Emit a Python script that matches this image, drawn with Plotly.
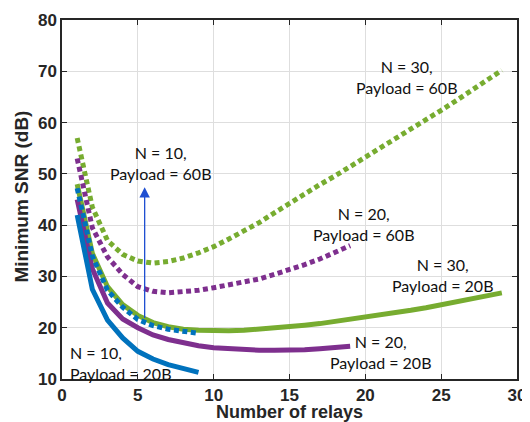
import plotly.graph_objects as go

# ---- data ----
x_n10 = list(range(1, 10))
x_n20 = list(range(1, 20))
x_n30 = list(range(1, 30))

snr_n10_20B = [42.0, 27.5, 21.5, 18.0, 15.4, 13.9, 12.8, 12.0, 11.3]
snr_n10_60B = [47.2, 34.0, 27.3, 24.0, 21.6, 20.4, 19.7, 19.2, 18.9]

snr_n20_20B = [45.0, 31.5, 24.8, 21.7, 20.0, 18.6, 17.7, 17.0, 16.5, 16.1,
               15.9, 15.7, 15.6, 15.6, 15.6, 15.7, 15.9, 16.1, 16.4]
snr_n20_60B = [53.0, 39.5, 33.8, 30.4, 28.0, 27.1, 26.8, 27.0, 27.3, 27.8,
               28.3, 28.8, 29.5, 30.4, 31.3, 32.3, 33.4, 34.6, 36.0]

snr_n30_20B = [48.0, 34.5, 28.0, 24.5, 22.4, 21.0, 20.2, 19.7, 19.5, 19.4,
               19.4, 19.5, 19.7, 19.9, 20.2, 20.5, 20.8, 21.2, 21.6, 22.0,
               22.4, 22.9, 23.4, 23.9, 24.5, 25.0, 25.6, 26.2, 26.8]
snr_n30_60B = [57.0, 43.5, 37.0, 34.3, 33.0, 32.6, 32.9, 33.6, 34.6, 35.8,
               37.3, 38.8, 40.5, 42.4, 44.3, 46.1, 47.9, 49.6, 51.4, 53.2,
               55.0, 56.8, 58.7, 60.5, 62.4, 64.3, 66.2, 68.2, 70.2]

x_ticks = [0, 5, 10, 15, 20, 25, 30]
y_ticks = [10, 20, 30, 40, 50, 60, 70, 80]

x_title = "Number of relays"
y_title = "Minimum SNR (dB)"

labels = [
    ("N = 10,<br>Payload = 60B", 6.5, 52.2, "center"),
    ("N = 30,<br>Payload = 60B", 22.75, 68.9, "center"),
    ("N = 20,<br>Payload = 60B", 19.9, 40.3, "center"),
    ("N = 30,<br>Payload = 20B", 25.1, 30.3, "center"),
    ("N = 20,<br>Payload = 20B", 21.0, 15.3, "center"),
    ("N = 10,<br>Payload = 20B", 0.4, 13.2, "left"),
]
arrow_x = 5.45
arrow_from = 21.6
arrow_to = 47.4

# ---- styles ----
BLUE = "#0072BD"
PURPLE = "#7E2F8E"
GREEN = "#77AC30"
DOT = "5px,3.5px"
LW = 5
AX = "#262626"

fig = go.Figure()
series = [
    (x_n30, snr_n30_60B, GREEN, DOT),
    (x_n20, snr_n20_60B, PURPLE, DOT),
    (x_n30, snr_n30_20B, GREEN, "solid"),
    (x_n20, snr_n20_20B, PURPLE, "solid"),
    (x_n10, snr_n10_60B, BLUE, DOT),
    (x_n10, snr_n10_20B, BLUE, "solid"),
]
for xs, ys, c, d in series:
    fig.add_trace(go.Scatter(x=xs, y=ys, mode="lines",
                             line=dict(color=c, width=LW, dash=d),
                             showlegend=False, hoverinfo="skip"))

for txt, x, y, al in labels:
    fig.add_annotation(x=x, y=y, text=txt, showarrow=False,
                       xanchor="left" if al == "left" else "center",
                       align=al, yanchor="middle",
                       font=dict(family="Lato", size=16, color="#111111"))

fig.add_annotation(x=arrow_x, y=arrow_to, ax=arrow_x, ay=arrow_from,
                   xref="x", yref="y", axref="x", ayref="y",
                   text="", showarrow=True, arrowhead=2, arrowsize=1.6,
                   arrowwidth=1.3, arrowcolor="#1f4fd1")

# axis titles placed as paper annotations for exact positioning
fig.add_annotation(x=0.501, y=-0.091, xref="paper", yref="paper",
                   text="<b>" + x_title + "</b>", showarrow=False,
                   xanchor="center", yanchor="middle",
                   font=dict(family="Liberation Sans", size=18, color=AX))
fig.add_annotation(x=-0.088, y=0.508, xref="paper", yref="paper",
                   text="<b>" + y_title + "</b>", showarrow=False,
                   textangle=-90, xanchor="center", yanchor="middle",
                   font=dict(family="Liberation Sans", size=19, color=AX))

axis_common = dict(
    showgrid=True, gridcolor="#dedede", gridwidth=1,
    showline=True, linecolor=AX, linewidth=1.5, mirror="ticks",
    ticks="inside", ticklen=5, tickcolor=AX, tickwidth=1.2,
    zeroline=False, automargin=False,
    tickfont=dict(family="Liberation Sans", size=17, color=AX, weight="bold"),
)

fig.update_xaxes(range=[0, 30], tickvals=x_ticks, **axis_common)
fig.update_yaxes(range=[10, 80], tickvals=y_ticks, **axis_common)

# page body adds an 8px offset, so the figure is sized/margined to compensate
fig.update_layout(
    width=522, height=414,
    margin=dict(l=54, r=13, t=12, b=43),
    paper_bgcolor="white", plot_bgcolor="white",
)

fig.write_html("out.html")
